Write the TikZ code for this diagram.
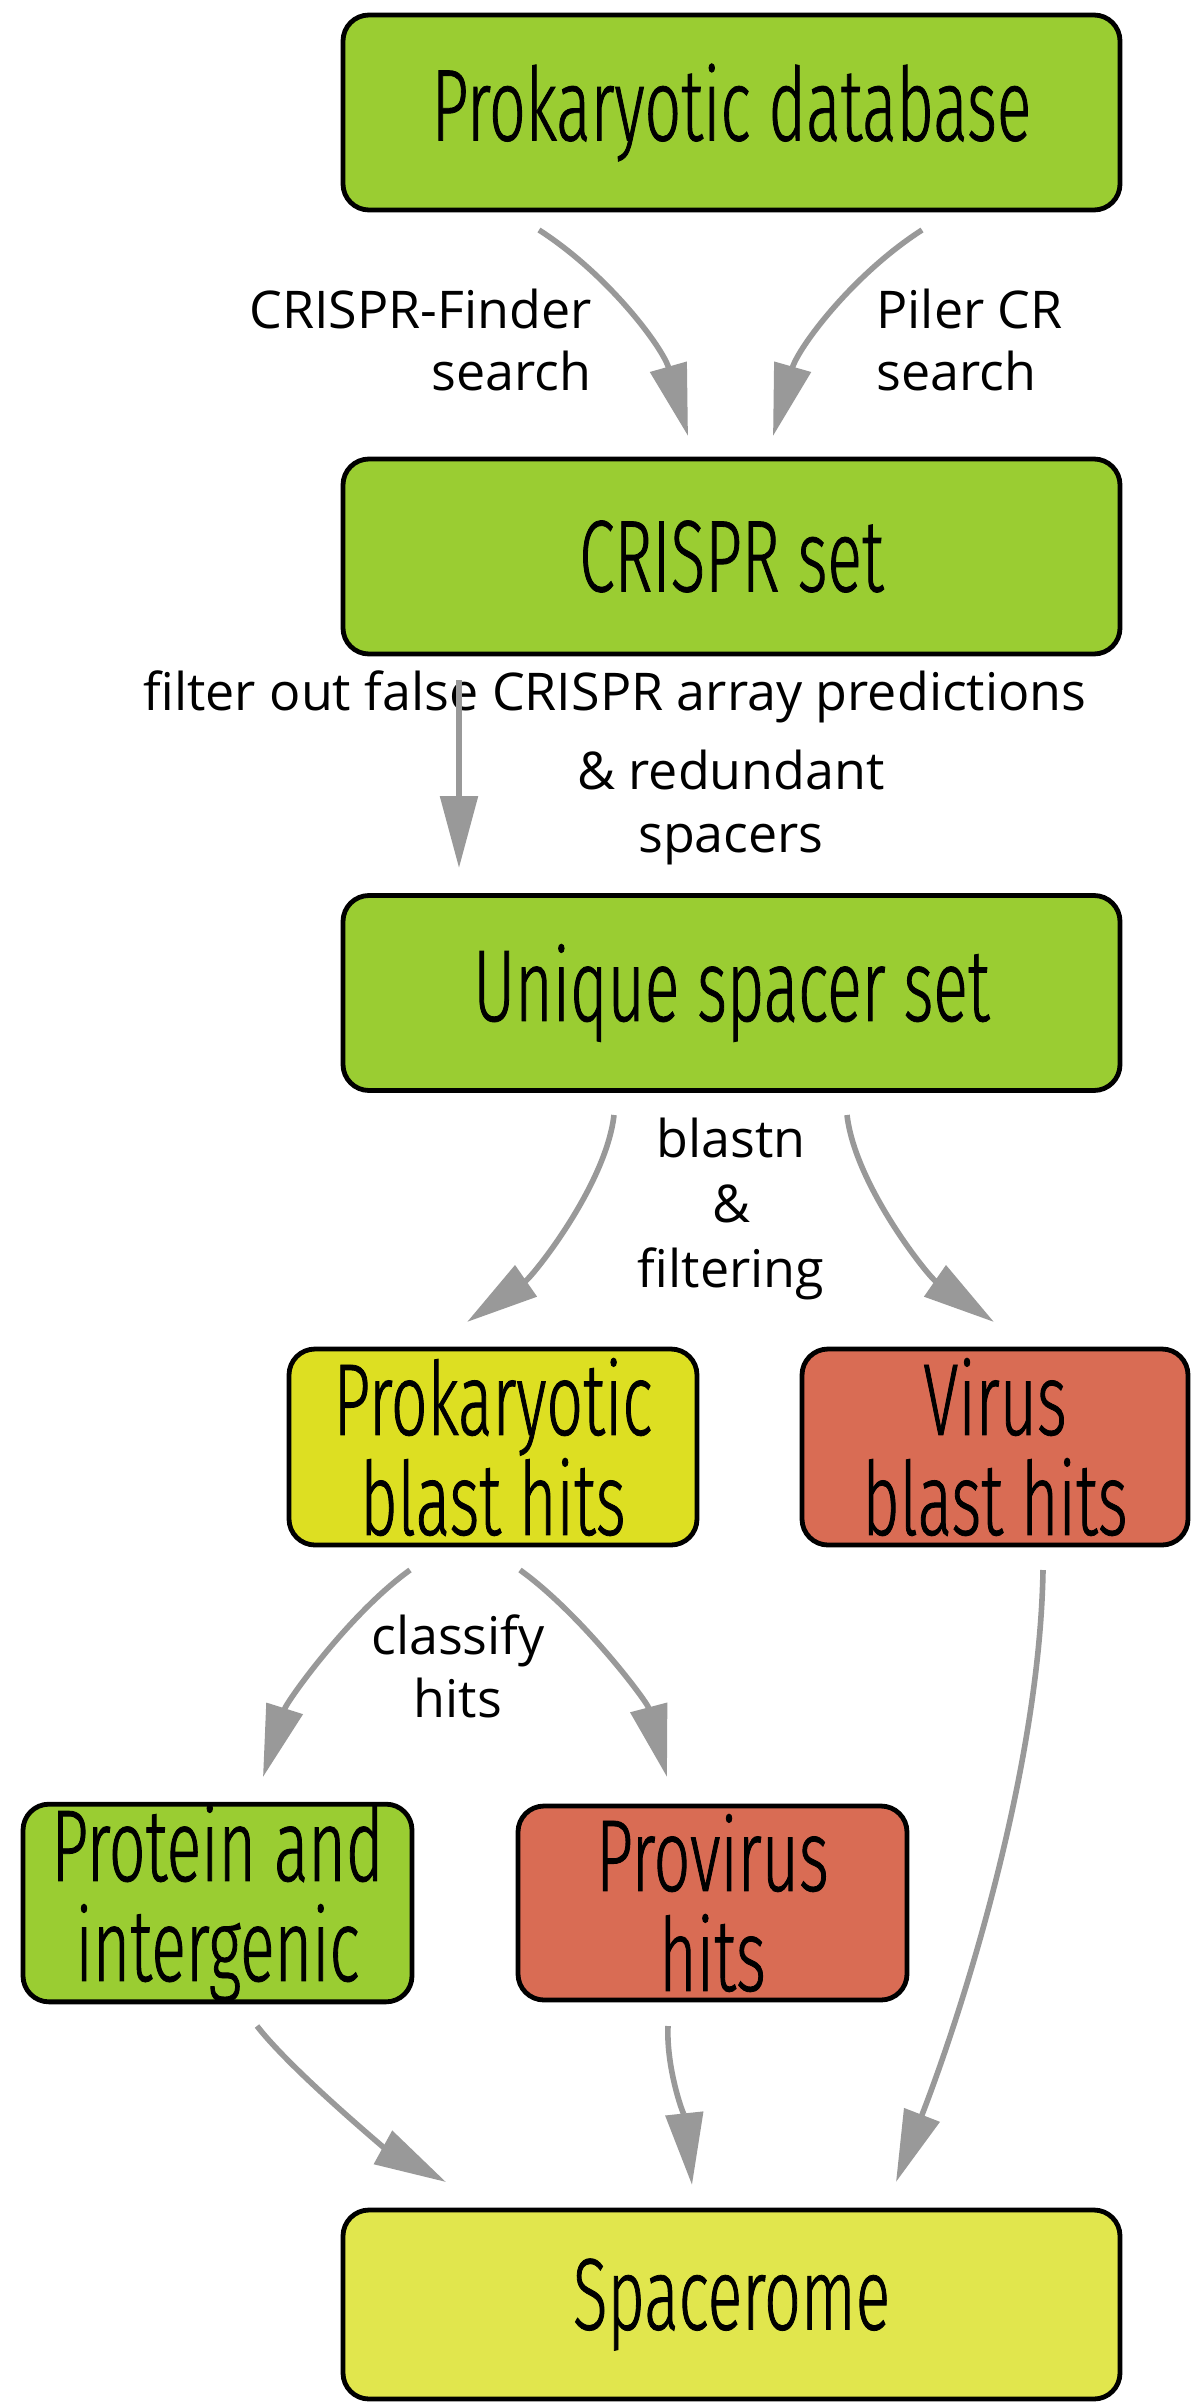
\documentclass[tikz,border=0pt]{standalone}
\usepackage{fontspec}
\setmainfont{Open Sans}
\newfontfamily\boxfont[FakeStretch=0.63,FakeBold=0.8]{Fira Sans Light}
\usetikzlibrary{arrows.meta}
\definecolor{cgreen}{RGB}{154,205,50}
\definecolor{cyel}{RGB}{221,223,34}
\definecolor{cred}{RGB}{217,108,84}
\definecolor{cspace}{RGB}{225,230,77}
\definecolor{cgray}{RGB}{153,153,153}
\begin{document}
\begin{tikzpicture}[x=0.5pt,y=-0.5pt,
  box/.style={draw=black, line width=2.4pt, rounded corners=13pt, inner sep=0pt,
    font=\boxfont\fontsize{51}{50}\selectfont, align=center},
  conn/.style={draw=cgray, line width=2.8pt, -{Triangle[length=36pt,width=18.5pt]}},
  lbl/.style={font=\fontsize{26}{31.5}\selectfont, inner sep=0pt}]
\useasboundingbox (0,0) rectangle (1190,2402);
\fill[white] (0,0) rectangle (1190,2402);

% boxes
\node[box, fill=cgreen, minimum width=388.5pt, minimum height=97.5pt] (db) at (731.5,112.5) {Prokaryotic database};
\node[box, fill=cgreen, minimum width=388.5pt, minimum height=97.5pt] (crispr) at (731.5,556.5) {CRISPR set};
\node[box, fill=cgreen, minimum width=388.5pt, minimum height=97.5pt] (unique) at (731.5,993) {Unique spacer set};
\node[box, fill=cyel, minimum width=204pt, minimum height=98pt] (prok) at (493,1447) {Prokaryotic\\blast hits};
\node[box, fill=cred, minimum width=193pt, minimum height=98pt] (virus) at (995,1447) {Virus\\blast hits};
\node[box, fill=cgreen, minimum width=194.5pt, minimum height=97pt] (protein) at (217.5,1903) {Protein and\\intergenic};
\node[box, fill=cred, minimum width=194.5pt, minimum height=97pt] (provirus) at (712.5,1903) {Provirus\\hits};
\node[box, fill=cspace, minimum width=388.5pt, minimum height=94.5pt] (spacerome) at (731.5,2304.5) {Spacerome};

% labels
\node[lbl, align=right, anchor=east] (lcf) at (592,340) {CRISPR-Finder\\search};
\node[lbl, align=left, anchor=west] (lpc) at (876,340) {Piler CR\\search};
\node[lbl] (lfilter) at (615,697) {filter out false CRISPR array predictions};
\node[lbl, align=center] (lred) at (731,807) {\& redundant\\spacers};
\node[lbl, align=center, font=\fontsize{26}{32.5}\selectfont] (lblast) at (731,1209) {blastn\\\&\\filtering};
\node[lbl, align=center] (lclass) at (458,1666) {classify\\hits};

% connector end points
\coordinate (a1s) at (539,230);  \coordinate (a1e) at (688,436);
\coordinate (a2s) at (922,230);  \coordinate (a2e) at (773,436);
\coordinate (a3s) at (459,680);  \coordinate (a3e) at (459,868);
\coordinate (a4s) at (614,1115); \coordinate (a4e) at (467,1322);
\coordinate (a5s) at (847,1115); \coordinate (a5e) at (994,1322);
\coordinate (a6s) at (410,1570); \coordinate (a6e) at (263,1777);
\coordinate (a7s) at (520,1570); \coordinate (a7e) at (667,1777);
\coordinate (a8s) at (257,2026); \coordinate (a8e) at (446,2182);
\coordinate (a9s) at (668,2026); \coordinate (a9e) at (692,2185);
\coordinate (a10s) at (1043,1570); \coordinate (a10e) at (896,2182);

% connectors
\draw[conn] (a1s) .. controls (609,275) and (663,348) .. (a1e);
\draw[conn] (a2s) .. controls (852,275) and (798,348) .. (a2e);
\draw[conn] (a3s) -- (a3e);
\draw[conn] (a4s) .. controls (606,1185) and (533,1276) .. (a4e);
\draw[conn] (a5s) .. controls (855,1185) and (928,1276) .. (a5e);
\draw[conn] (a6s) .. controls (350,1613) and (287,1701) .. (a6e);
\draw[conn] (a7s) .. controls (580,1613) and (647,1701) .. (a7e);
\draw[conn] (a8s) .. controls (292,2071) and (386,2149) .. (a8e);
\draw[conn] (a9s) .. controls (666,2070) and (685,2120) .. (a9e);
\draw[conn] (a10s) .. controls (1040,1760) and (968,1996) .. (a10e);
\end{tikzpicture}
\end{document}
